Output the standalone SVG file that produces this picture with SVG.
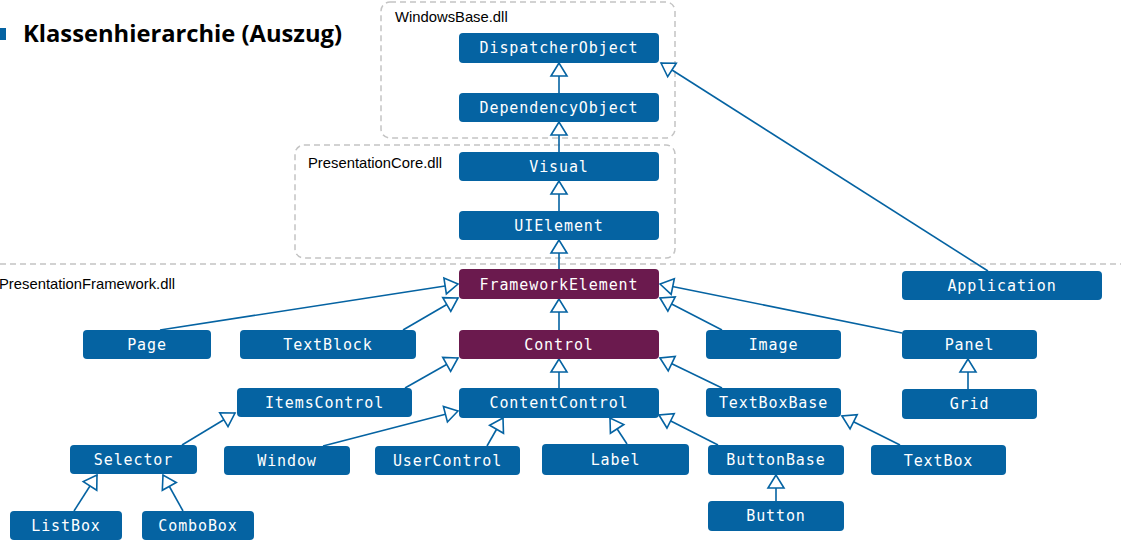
<svg xmlns="http://www.w3.org/2000/svg" width="1121" height="553" viewBox="0 0 1121 553">
<style>
.n rect{fill:#0563a2;}
.p rect{fill:#6b1a4e;}
.n text,.p text{fill:#fff;font-family:"DejaVu Sans Mono","Liberation Mono",monospace;font-size:15px;letter-spacing:0.9px;text-anchor:middle;}
.dll{fill:none;stroke:#c4c4c4;stroke-width:1.5;stroke-dasharray:6,4;}
.lbl{font-family:"Liberation Sans",Arial,sans-serif;font-size:14.8px;fill:#000;}
#edges line{stroke:#0563a2;stroke-width:1.6;marker-end:url(#tri);}
</style>
<defs>
<marker id="tri" markerUnits="userSpaceOnUse" markerWidth="20" markerHeight="20" viewBox="-15 -10 17 20" refX="0" refY="0" orient="auto">
<path d="M0,0 L-13,-8 L-13,8 Z" fill="#fff" stroke="#0563a2" stroke-width="1.6" stroke-linejoin="miter"/>
</marker>
</defs>
<rect width="1121" height="553" fill="#fff"/>
<g id="title">
<rect x="0" y="28" width="6" height="12" fill="#0563a2"/>
<text x="23" y="42" font-family="'Open Sans','Noto Sans',sans-serif" font-weight="bold" font-size="23px" textLength="319" lengthAdjust="spacingAndGlyphs" fill="#000">Klassenhierarchie (Auszug)</text>
</g>
<g id="regions">
<rect class="dll" x="381" y="2" width="294" height="136" rx="9"/>
<text class="lbl" x="395" y="22">WindowsBase.dll</text>
<rect class="dll" x="295" y="145" width="380" height="113" rx="9"/>
<text class="lbl" x="308" y="168">PresentationCore.dll</text>
<line x1="0" y1="264" x2="1121" y2="264" class="dll"/>
<text class="lbl" x="-1" y="289">PresentationFramework.dll</text>
</g>
<g id="edges">
<line x1="559" y1="93" x2="559" y2="63"/>
<line x1="559" y1="152" x2="559" y2="122"/>
<line x1="559" y1="211" x2="559" y2="181"/>
<line x1="559" y1="269" x2="559" y2="240"/>
<line x1="559" y1="330" x2="559" y2="299"/>
<line x1="988" y1="271" x2="661" y2="63"/>
<line x1="160" y1="330" x2="458" y2="284"/>
<line x1="403" y1="330" x2="458" y2="298"/>
<line x1="722" y1="330" x2="660" y2="298"/>
<line x1="902" y1="333" x2="660" y2="284"/>
<line x1="968" y1="389" x2="968" y2="359"/>
<line x1="405" y1="388" x2="458" y2="358"/>
<line x1="559" y1="388" x2="559" y2="359"/>
<line x1="722" y1="388" x2="660" y2="358"/>
<line x1="182" y1="445" x2="235" y2="413"/>
<line x1="323" y1="446" x2="458" y2="411"/>
<line x1="487" y1="446" x2="503" y2="418"/>
<line x1="627" y1="444" x2="610" y2="418"/>
<line x1="718" y1="445" x2="659" y2="415"/>
<line x1="900" y1="445" x2="842" y2="416"/>
<line x1="776" y1="501" x2="776" y2="475"/>
<line x1="74" y1="511" x2="97" y2="475"/>
<line x1="183" y1="511" x2="163" y2="475"/>
</g>
<g id="DispatcherObject" class="n"><rect x="459" y="33" width="200" height="30" rx="4"/><text x="559" y="53">DispatcherObject</text></g>
<g id="DependencyObject" class="n"><rect x="459" y="93" width="200" height="29" rx="4"/><text x="559" y="113">DependencyObject</text></g>
<g id="Visual" class="n"><rect x="459" y="152" width="200" height="29" rx="4"/><text x="559" y="172">Visual</text></g>
<g id="UIElement" class="n"><rect x="459" y="211" width="200" height="29" rx="4"/><text x="559" y="231">UIElement</text></g>
<g id="FrameworkElement" class="p"><rect x="459" y="269" width="200" height="30" rx="4"/><text x="559" y="290">FrameworkElement</text></g>
<g id="Application" class="n"><rect x="902" y="271" width="200" height="29" rx="4"/><text x="1002" y="291">Application</text></g>
<g id="Page" class="n"><rect x="83" y="330" width="128" height="29" rx="4"/><text x="147" y="350">Page</text></g>
<g id="TextBlock" class="n"><rect x="240" y="330" width="176" height="29" rx="4"/><text x="328" y="350">TextBlock</text></g>
<g id="Control" class="p"><rect x="459" y="330" width="200" height="29" rx="4"/><text x="559" y="350">Control</text></g>
<g id="Image" class="n"><rect x="706" y="330" width="135" height="29" rx="4"/><text x="773.5" y="350">Image</text></g>
<g id="Panel" class="n"><rect x="902" y="330" width="135" height="29" rx="4"/><text x="969.5" y="350">Panel</text></g>
<g id="ItemsControl" class="n"><rect x="237" y="388" width="175" height="29" rx="4"/><text x="324.5" y="408">ItemsControl</text></g>
<g id="ContentControl" class="n"><rect x="459" y="388" width="200" height="30" rx="4"/><text x="559" y="408">ContentControl</text></g>
<g id="TextBoxBase" class="n"><rect x="706" y="388" width="135" height="29" rx="4"/><text x="773.5" y="408">TextBoxBase</text></g>
<g id="Grid" class="n"><rect x="902" y="389" width="135" height="30" rx="4"/><text x="969.5" y="409">Grid</text></g>
<g id="Selector" class="n"><rect x="70" y="445" width="127" height="29" rx="4"/><text x="133.5" y="465">Selector</text></g>
<g id="Window" class="n"><rect x="224" y="446" width="126" height="29" rx="4"/><text x="287" y="466">Window</text></g>
<g id="UserControl" class="n"><rect x="375" y="446" width="145" height="29" rx="4"/><text x="447.5" y="466">UserControl</text></g>
<g id="Label" class="n"><rect x="542" y="444" width="147" height="31" rx="4"/><text x="615.5" y="465">Label</text></g>
<g id="ButtonBase" class="n"><rect x="708" y="445" width="136" height="30" rx="4"/><text x="776" y="465">ButtonBase</text></g>
<g id="TextBox" class="n"><rect x="871" y="445" width="135" height="30" rx="4"/><text x="938.5" y="466">TextBox</text></g>
<g id="ListBox" class="n"><rect x="10" y="511" width="112" height="29" rx="4"/><text x="66" y="531">ListBox</text></g>
<g id="ComboBox" class="n"><rect x="142" y="511" width="112" height="29" rx="4"/><text x="198" y="531">ComboBox</text></g>
<g id="Button" class="n"><rect x="708" y="501" width="136" height="30" rx="4"/><text x="776" y="521">Button</text></g>
</svg>
